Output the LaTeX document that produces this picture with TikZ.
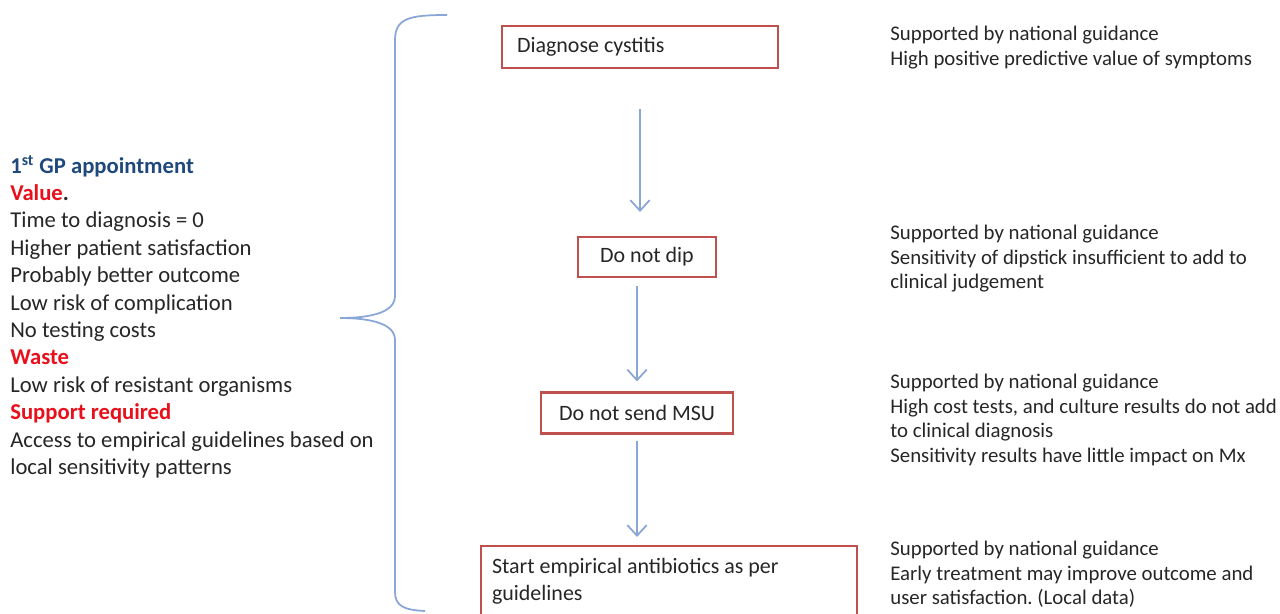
\documentclass[tikz,border=0pt]{standalone}
\usepackage{fontspec}
\setmainfont{Carlito}
\usetikzlibrary{positioning}
\usetikzlibrary{arrows.meta}

\definecolor{cajaroja}{HTML}{C0504D}
\definecolor{azulllave}{HTML}{8AA6D6}
\definecolor{azultit}{HTML}{1F497D}
\definecolor{rojotit}{HTML}{E8101A}
\definecolor{texto}{HTML}{262626}

\begin{document}
\frenchspacing
\begin{tikzpicture}[x=0.02cm, y=-0.02cm,
    every node/.style={text=texto},
    caja/.style={draw=cajaroja, line width=1.2pt, font=\fontsize{12.5}{15.5}\selectfont},
    nota/.style={anchor=north west, align=left, inner sep=0pt, font=\fontsize{11.85}{13.9}\selectfont},
    flecha/.style={->, draw=azulllave, line width=1pt},
    >={Straight Barb[length=6pt,width=11pt]}]
              \useasboundingbox (0,0) rectangle (1280,613);
              % Nodos
              \node[caja, minimum width=5.52cm, minimum height=0.84cm, text width=4.92cm, align=flush left, inner xsep=0.3cm] (diag) at (640,47) {Diagnose cystitis};
              \node[caja, minimum width=2.76cm, minimum height=0.8cm] (dip) at (647,257) {Do not dip};
              \node[caja, minimum width=3.84cm, minimum height=0.82cm] (msu) at (637,413) {Do not send MSU};
              \node[caja, minimum width=7.52cm, minimum height=1.4cm, text width=7.08cm, align=flush left, inner xsep=0.22cm] (abx) at (669,581) {Start empirical antibiotics as per\\guidelines};

              \node[anchor=north west, align=left, inner sep=0pt, font=\fontsize{12.9}{15.6}\selectfont] (gp) at (10,155) {%
                \textcolor{azultit}{\textbf{1\textsuperscript{st} GP appointment}}\\
                \textbf{\textcolor{rojotit}{Value}.}\\
                Time to diagnosis = 0\\
                Higher patient satisfaction\\
                Probably better outcome\\
                Low risk of complication\\
                No testing costs\\
                \textcolor{rojotit}{\textbf{Waste}}\\
                Low risk of resistant organisms\\
                \textcolor{rojotit}{\textbf{Support required}}\\
                Access to empirical guidelines based on\\
                local sensitivity patterns};

              \node[nota] (n1) at (890,26) {Supported by national guidance\\High positive predictive value of symptoms};
              \node[nota] (n2) at (890,225) {Supported by national guidance\\Sensitivity of dipstick insufficient to add to\\clinical judgement};
              \node[nota] (n3) at (890,374) {Supported by national guidance\\High cost tests, and culture results do not add\\to clinical diagnosis\\Sensitivity results have little impact on Mx};
              \node[nota] (n4) at (890,541) {Supported by national guidance\\Early treatment may improve outcome and\\user satisfaction. (Local data)};

              % Llave
              \draw[azulllave, line width=1pt] (447,15) .. controls (410,15) and (395,18) .. (395,40) -- (395,296) .. controls (395,312) and (372,318) .. (340,318);
              \draw[azulllave, line width=1pt] (340,318) .. controls (372,318) and (395,324) .. (395,340) -- (395,592) .. controls (395,606) and (404,610) .. (425,611);

              % Flechas
              \draw[flecha, shorten <=0.8cm, shorten >=0.48cm] (diag.south) -- (diag.south |- dip.north);
              \draw[flecha, shorten <=0.16cm, shorten >=0.2cm] (msu.north |- dip.south) -- (msu.north);
              \draw[flecha, shorten <=0.12cm, shorten >=0.16cm] (msu.south) -- (msu.south |- abx.north);
            \end{tikzpicture}
\end{document}
